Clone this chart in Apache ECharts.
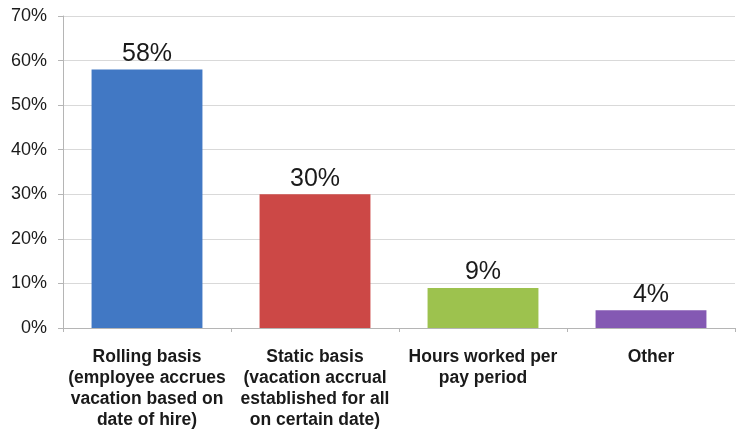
<!DOCTYPE html>
<html><head><meta charset="utf-8">
<script src="https://cdn.jsdelivr.net/npm/echarts@6/dist/echarts.min.js"></script>
<style>html,body{margin:0;padding:0;background:#fff}#c{width:738px;height:431px}</style>
</head><body><div id="c"></div>
<script>
const categories = [
  "Rolling basis\n(employee accrues\nvacation based on\ndate of hire)",
  "Static basis\n(vacation accrual\nestablished for all\non certain date)",
  "Hours worked per\npay period",
  "Other"
];
const values = [58, 30, 9, 4];
const barColors = ["#4178C4", "#CC4846", "#9DC24E", "#8459B3"];

const chart = echarts.init(document.getElementById('c'), null, {renderer: 'canvas'});
chart.setOption({
  animation: false,
  grid: {left: 63, right: 3, top: 16, bottom: 103},
  xAxis: {
    type: 'category',
    data: categories,
    axisLine: {lineStyle: {color: '#b5b5b5'}},
    axisTick: {show: true, length: 4, lineStyle: {color: '#b5b5b5'}},
    axisLabel: {
      interval: 0, margin: 19, color: '#1a1a1a', fontSize: 17.5, fontWeight: 'bold',
      fontFamily: 'Liberation Sans, Arial, sans-serif', lineHeight: 21
    }
  },
  yAxis: {
    type: 'value', min: 0, max: 70, interval: 10,
    axisLine: {show: true, lineStyle: {color: '#b5b5b5'}},
    axisTick: {show: true, length: 5, lineStyle: {color: '#b5b5b5'}},
    splitLine: {lineStyle: {color: '#d9d9d9'}},
    axisLabel: {
      formatter: '{value}%', color: '#1a1a1a', fontSize: 18, margin: 16,
      fontFamily: 'Liberation Sans, Arial, sans-serif'
    }
  },
  series: [{
    type: 'bar',
    data: values.map((v, i) => ({value: v, itemStyle: {color: barColors[i]}})),
    barWidth: '66%',
    label: {
      show: true, position: 'top', formatter: '{c}%', distance: 3,
      fontSize: 25, color: '#1a1a1a', fontFamily: 'Liberation Sans, Arial, sans-serif'
    }
  }]
});
</script></body></html>
